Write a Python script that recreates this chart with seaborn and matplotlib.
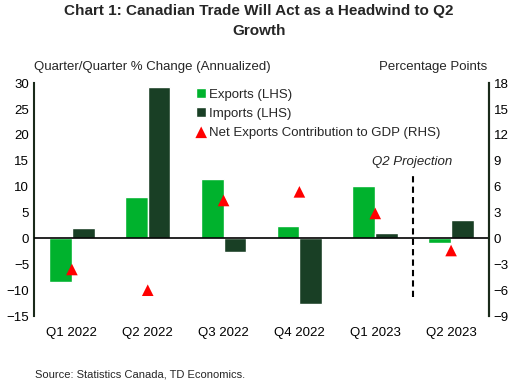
import pandas as pd
import numpy as np
import matplotlib
matplotlib.use("Agg")
import matplotlib.pyplot as plt
import seaborn as sns

quarters = ["Q1 2022", "Q2 2022", "Q3 2022", "Q4 2022", "Q1 2023", "Q2 2023"]
exports = [-8.5, 8.1, 11.4, 2.4, 10.2, -0.8]
imports = [2.0, 29.2, -2.6, -12.7, 1.0, 3.5]
net_exports = [-3.6, -6.0, 4.4, 5.4, 2.9, -1.4]

sns.set_style("white")
plt.rcParams['font.family'] = ['Liberation Sans', 'DejaVu Sans']

df = pd.DataFrame({
    'quarter': quarters * 2,
    'value': exports + imports,
    'series': ['Exports (LHS)'] * 6 + ['Imports (LHS)'] * 6,
})
net_df = pd.DataFrame({'quarter': quarters, 'net': net_exports})

fig = plt.figure(figsize=(5.18, 3.85), dpi=100)
ax = fig.add_axes([0.0656, 0.179, 0.8784, 0.605])

sns.barplot(data=df, x='quarter', y='value', hue='series',
            palette=['#00B22D', '#193F25'], width=0.6, gap=0,
            saturation=1, ax=ax)
ax.set_ylim(-15, 30)
ax.set_yticks(np.arange(-15, 31, 5))
ax.set_xlim(-0.5, 5.5)
ax.axhline(0, color='black', lw=1.2, zorder=3)
ax.set_xlabel('')
ax.set_ylabel('')
ax.get_legend().remove()

ax2 = ax.twinx()
sns.scatterplot(data=net_df, x='quarter', y='net', marker='^', color='#FF0000',
                s=70, edgecolor='none', ax=ax2,
                label='Net Exports Contribution to GDP (RHS)', legend=False)
ax2.set_ylim(-9, 18)
ax2.set_yticks(np.arange(-9, 19, 3))
ax2.set_ylabel('')

# projection divider
ax.plot([4.5, 4.5], [-11.3, 12.2], color='black', ls=(0, (3, 2)), lw=1.5, zorder=4)
ax.text(4.48, 13.6, 'Q2 Projection', style='italic', fontsize=9.5, ha='center', va='bottom')

for a in (ax, ax2):
    for s in ('top', 'bottom'):
        a.spines[s].set_visible(False)
    a.spines['left'].set_color('#1a2a1a')
    a.spines['right'].set_color('#1a2a1a')
    a.spines['left'].set_linewidth(1.5)
    a.spines['right'].set_linewidth(1.5)
    a.tick_params(length=0, labelsize=9.5, colors='black')
ax.tick_params(axis='x', pad=8)
ax2.spines['left'].set_visible(False)

h1, l1 = ax.get_legend_handles_labels()
h2, l2 = ax2.get_legend_handles_labels()
ax2.legend(h1 + h2, l1 + l2, loc='upper left', bbox_to_anchor=(0.345, 1.0),
           frameon=False, fontsize=9.5, handlelength=0.75, handleheight=0.75,
           handletextpad=0.25, labelspacing=0.5, borderaxespad=0)

fig.text(0.5, 0.99, 'Chart 1: Canadian Trade Will Act as a Headwind to Q2\nGrowth',
         ha='center', va='top', fontsize=11, fontweight='bold', linespacing=1.55)
fig.text(0.066, 0.81, 'Quarter/Quarter % Change (Annualized)', fontsize=9.5, va='bottom')
fig.text(0.94, 0.81, 'Percentage Points', fontsize=9.5, va='bottom', ha='right')
fig.text(0.068, 0.02, 'Source: Statistics Canada, TD Economics.', fontsize=8)

fig.savefig('out.png', dpi=100)
